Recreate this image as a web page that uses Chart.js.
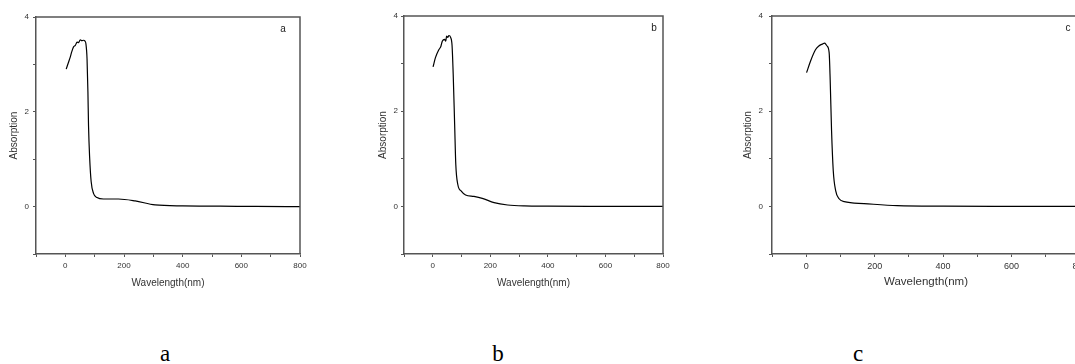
<!DOCTYPE html>
<html>
<head>
<meta charset="utf-8">
<script src="https://cdn.jsdelivr.net/npm/chart.js@4/dist/chart.umd.min.js"></script>
<style>
  html, body { margin: 0; padding: 0; background: #fff; overflow: hidden; }
  body { width: 1075px; height: 364px; position: relative; }
  canvas { position: absolute; top: 0; }
  .cap { position: absolute; top: 342px; width: 40px; text-align: center; line-height: 1;
         font-family: "Liberation Serif", "DejaVu Serif", serif; font-size: 23px; color: #000; }
</style>
</head>
<body>
<canvas id="chartA" style="left:0px"></canvas>
<canvas id="chartB" style="left:368px"></canvas>
<canvas id="chartC" style="left:736px"></canvas>
<div class="cap" style="left:145px">a</div>
<div class="cap" style="left:478px">b</div>
<div class="cap" style="left:838px">c</div>
<script>
// spectra (wavelength in nm, absorption)
var wavelengthA = [3, 10, 17, 22, 28, 34, 40, 45, 51, 56, 62, 67, 70, 74, 77, 79, 83, 88, 96, 108, 130, 181, 238, 306, 400, 528, 650, 800];
var absorptionA = [2.90, 3.03, 3.16, 3.27, 3.37, 3.40, 3.47, 3.46, 3.52, 3.50, 3.51, 3.49, 3.44, 3.12, 2.42, 1.72, 1.02, 0.53, 0.28, 0.19, 0.16, 0.16, 0.12, 0.036, 0.015, 0.01, 0.003, 0];

var wavelengthB = [1, 9, 21, 28, 33, 41, 45, 48, 52, 56, 62, 67, 71, 76, 80, 87, 99, 114, 143, 172, 213, 260, 318, 400, 550, 800];
var absorptionB = [2.93, 3.12, 3.29, 3.36, 3.47, 3.51, 3.47, 3.58, 3.55, 3.59, 3.55, 3.38, 2.77, 1.72, 0.88, 0.46, 0.32, 0.24, 0.21, 0.17, 0.08, 0.03, 0.01, 0.005, 0.002, 0];

var wavelengthC = [1, 13, 27, 37, 47, 54, 58, 61, 67, 70, 74, 79, 86, 96, 111, 169, 266, 400, 600, 800];
var absorptionC = [2.81, 3.06, 3.29, 3.37, 3.41, 3.43, 3.40, 3.37, 3.23, 2.66, 1.60, 0.75, 0.33, 0.16, 0.10, 0.06, 0.015, 0.005, 0.002, 0];

var panelLetters = ['a', 'b', 'c'];
var xTitle = 'Wavelength(nm)';
var yTitle = 'Absorption';

var axisColor = '#555';

// draws the top/right frame and the letter in the corner
var framePlugin = {
    id: 'frame',
    afterDraw: function(chart, args, opts) {
        var a = chart.chartArea;
        var ctx = chart.ctx;
        ctx.save();
        ctx.strokeStyle = axisColor;
        ctx.lineWidth = 1.5;
        ctx.beginPath();
        ctx.moveTo(a.left, a.top);
        ctx.lineTo(a.right, a.top);
        ctx.lineTo(a.right, a.bottom);
        ctx.stroke();
        ctx.fillStyle = '#222';
        ctx.font = '10px "Liberation Sans", Arial, sans-serif';
        ctx.textAlign = 'center';
        ctx.textBaseline = 'middle';
        ctx.fillText(opts.letter, a.right - opts.dx, a.top + 12);
        ctx.restore();
    }
};

function makePanel(id, xs, ys, letter, w, cfg) {
    var canvas = document.getElementById(id);
    canvas.width = w;
    canvas.height = 300;
    canvas.style.width = w + 'px';
    canvas.style.height = '300px';
    var pts = xs.map(function(x, i) { return { x: x, y: ys[i] }; });
    return new Chart(canvas.getContext('2d'), {
        type: 'line',
        data: {
            datasets: [{
                data: pts,
                borderColor: '#000',
                borderWidth: 1.2,
                pointRadius: 0,
                cubicInterpolationMode: 'monotone',
                fill: false
            }]
        },
        options: {
            responsive: false,
            animation: false,
            events: [],
            layout: { padding: { top: cfg.top, right: 20, left: 0, bottom: 0 } },
            plugins: {
                legend: { display: false },
                tooltip: { enabled: false },
                frame: { letter: letter, dx: cfg.letterDx }
            },
            scales: {
                x: {
                    type: 'linear',
                    min: -100,
                    max: 800,
                    afterFit: function(s) { s.height = 46; },
                    border: { color: axisColor, width: 1.5 },
                    grid: { drawOnChartArea: false, tickLength: 3, tickColor: axisColor },
                    ticks: {
                        stepSize: 100,
                        autoSkip: false,
                        maxRotation: 0,
                        padding: 4,
                        color: '#333',
                        font: { family: '"Liberation Sans", Arial, sans-serif', size: cfg.xTick },
                        callback: function(v) { return v % 200 === 0 ? v : ''; }
                    },
                    title: {
                        display: true,
                        text: xTitle,
                        color: '#333',
                        padding: { top: 0, bottom: 11 },
                        font: { family: '"Liberation Sans", Arial, sans-serif', size: cfg.xTitle }
                    }
                },
                y: {
                    min: -1,
                    max: 4,
                    afterFit: function(s) { s.width = 36; },
                    border: { color: axisColor, width: 1.5 },
                    grid: { drawOnChartArea: false, tickLength: 3, tickColor: axisColor },
                    ticks: {
                        stepSize: 1,
                        padding: cfg.yPad,
                        color: '#333',
                        font: { family: '"Liberation Sans", Arial, sans-serif', size: 8 },
                        callback: function(v) { return v % 2 === 0 ? v : ''; }
                    },
                    title: {
                        display: true,
                        text: yTitle,
                        color: '#333',
                        padding: { top: cfg.yTitlePad, bottom: 0 },
                        font: { family: '"Liberation Sans", Arial, sans-serif', size: 10 }
                    }
                }
            }
        },
        plugins: [framePlugin]
    });
}

makePanel('chartA', wavelengthA, absorptionA, panelLetters[0], 320,
    { top: 17, letterDx: 17, xTick: 8, xTitle: 10, yPad: 4, yTitlePad: 8 });
makePanel('chartB', wavelengthB, absorptionB, panelLetters[1], 315,
    { top: 16, letterDx: 9, xTick: 8, xTitle: 10, yPad: 3, yTitlePad: 9 });
makePanel('chartC', wavelengthC, absorptionC, panelLetters[2], 364,
    { top: 16, letterDx: 12, xTick: 9, xTitle: 11.5, yPad: 6, yTitlePad: 6 });
</script>
</body>
</html>
